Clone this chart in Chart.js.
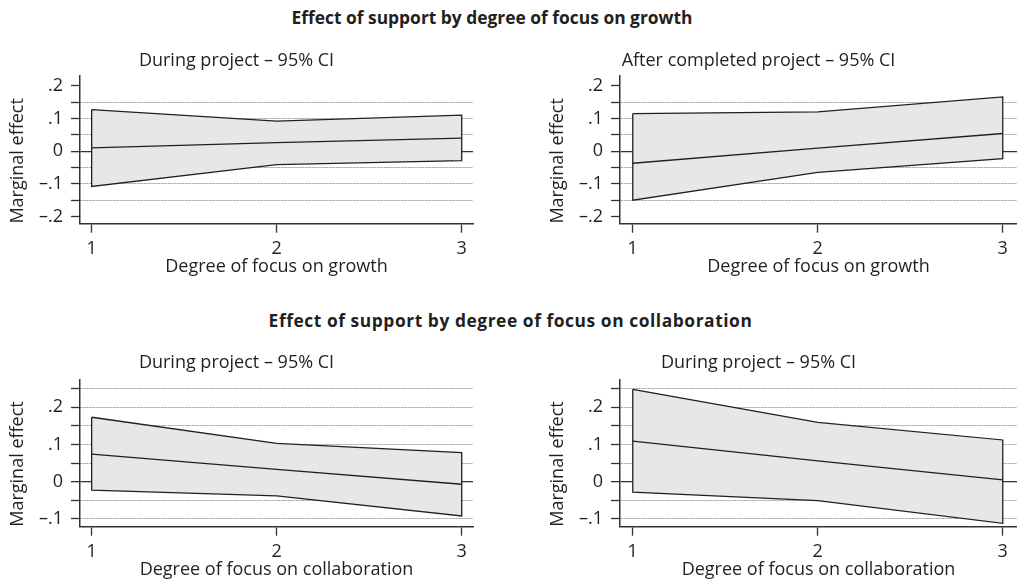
<!DOCTYPE html>
<html>
<head>
<meta charset="utf-8">
<script src="https://cdn.jsdelivr.net/npm/chart.js@4"></script>
<style>
  body { margin: 0; background: #fff; }
  #page { position: relative; width: 1017px; height: 582px; overflow: hidden; font-family: "Open Sans", sans-serif; color: #231f20; }
  .heading { position: absolute; font-weight: bold; font-size: 17.4px; line-height: 20px; white-space: nowrap; text-align: center; }
  canvas { position: absolute; }
</style>
</head>
<body>
<div id="page">
  <div class="heading" style="left:0; width:984px; top:7.4px;">Effect of support by degree of focus on growth</div>
  <div class="heading" style="left:21px; width:979px; top:310px; letter-spacing:0.55px;">Effect of support by degree of focus on collaboration</div>
  <canvas id="growthDuring" style="left:0; top:40px;" width="500" height="250"></canvas>
  <canvas id="growthAfter" style="left:500px; top:40px;" width="517" height="250"></canvas>
  <canvas id="collabDuring" style="left:0; top:340px;" width="500" height="242"></canvas>
  <canvas id="collabDuring2" style="left:500px; top:340px;" width="517" height="242"></canvas>
</div>
<script>
// x positions (degree of focus)
const focusLevels = [1, 2, 3];

// growth, during project
const growthDuringUpper = [0.127, 0.092, 0.110];
const growthDuringMid = [0.010, 0.026, 0.040];
const growthDuringLower = [-0.108, -0.041, -0.029];

// growth, after completed project
const growthAfterUpper = [0.115, 0.120, 0.166];
const growthAfterMid = [-0.037, 0.009, 0.054];
const growthAfterLower = [-0.150, -0.065, -0.023];

// collaboration, during project (left)
const collabDuringUpper = [0.173, 0.103, 0.078];
const collabDuringMid = [0.074, 0.033, -0.007];
const collabDuringLower = [-0.023, -0.038, -0.092];

// collaboration, during project (right)
const collabDuring2Upper = [0.248, 0.159, 0.112];
const collabDuring2Mid = [0.109, 0.056, 0.005];
const collabDuring2Lower = [-0.028, -0.051, -0.112];

// tick values and labels
const xTickValues = [1, 2, 3];
const yTicksGrowth = [-0.2, -0.15, -0.1, -0.05, 0, 0.05, 0.1, 0.15, 0.2];
const yLabelsGrowth = ['\u2013.2', '', '\u2013.1', '', '0', '', '.1', '', '.2'];
const gridGrowth = [-0.15, -0.1, -0.05, 0.05, 0.1, 0.15];
const yTicksCollab = [-0.1, -0.05, 0, 0.05, 0.1, 0.15, 0.2, 0.25];
const yLabelsCollab = ['\u2013.1', '', '0', '', '.1', '', '.2', ''];
const gridCollab = [-0.1, -0.05, 0.05, 0.1, 0.15, 0.2, 0.25];

const ink = '#231f20';
const axisColor = '#333';
const bandColor = '#e6e7e8';
const font = { family: 'Open Sans', size: 18 };

const yTitlePlugin = {
    id: 'yTitle',
    afterDraw(chart, args, opts) {
        const { ctx, chartArea } = chart;
        ctx.save();
        ctx.translate(chartArea.left - 62.5, (chartArea.top + chartArea.bottom) / 2 + 11);
        ctx.rotate(-Math.PI / 2);
        ctx.font = '18px "Open Sans"';
        ctx.fillStyle = ink;
        ctx.textAlign = 'center';
        ctx.textBaseline = 'middle';
        ctx.fillText(opts.text, 0, 0);
        ctx.restore();
    }
};

const pts = (ys) => focusLevels.map((x, i) => ({ x: x, y: ys[i] }));

function makePanel(id, p) {
    const outline = pts(p.upper).concat(pts(p.lower).reverse(), [{ x: focusLevels[0], y: p.upper[0] }]);
    new Chart(id, {
        type: 'line',
        data: {
            datasets: [
                { data: pts(p.mid), borderColor: ink, borderWidth: 1.3, pointRadius: 0, fill: false, order: 0 },
                { data: outline, borderColor: ink, borderWidth: 1.3, pointRadius: 0, fill: false, order: 1 },
                { data: pts(p.upper), borderWidth: 0, pointRadius: 0, fill: '+1', backgroundColor: bandColor, order: 3 },
                { data: pts(p.lower), borderWidth: 0, pointRadius: 0, fill: false, order: 4 }
            ]
        },
        options: {
            responsive: false,
            animation: false,
            layout: { padding: { top: 0, right: p.padRight, bottom: 0, left: 0 } },
            plugins: {
                legend: { display: false },
                tooltip: { enabled: false },
                title: {
                    display: true,
                    text: p.title,
                    color: ink,
                    font: { family: 'Open Sans', size: 18, weight: 'normal', lineHeight: 1.2 },
                    padding: { top: p.titleTop, bottom: p.titleBottom }
                },
                yTitle: { text: 'Marginal effect' }
            },
            scales: {
                x: {
                    type: 'linear',
                    min: p.xMin,
                    max: p.xMax,
                    afterBuildTicks: (s) => { s.ticks = xTickValues.map(v => ({ value: v })); },
                    afterFit: (s) => { s.height = p.xHeight; },
                    ticks: { color: ink, font: font, padding: 5, maxRotation: 0, autoSkip: false, callback: (v) => String(v) },
                    grid: { drawOnChartArea: false, drawTicks: true, tickLength: 9, tickColor: axisColor, tickWidth: 1.3 },
                    border: { display: true, color: axisColor, width: 1.5 },
                    title: { display: true, text: p.xTitle, color: ink, font: font, padding: { top: 0, bottom: p.xTitlePad } }
                },
                y: {
                    min: p.yMin,
                    max: p.yMax,
                    afterBuildTicks: (s) => { s.ticks = p.yTicks.map(v => ({ value: v })); },
                    afterFit: (s) => { s.width = p.yWidth; },
                    ticks: {
                        color: ink, font: font, padding: 8, autoSkip: false,
                        callback: (v, i) => p.yLabels[i]
                    },
                    grid: {
                        drawTicks: true, tickLength: 9, tickColor: axisColor, tickWidth: 1.3,
                        color: (c) => {
                            if (!c.tick) return 'rgba(0,0,0,0)';
                            if (c.tick.value === 0) return axisColor;
                            return p.grid.includes(c.tick.value) ? '#999' : 'rgba(0,0,0,0)';
                        },
                        lineWidth: (c) => (c.tick && c.tick.value === 0 ? 1.3 : 1)
                    },
                    border: {
                        display: true, color: axisColor, width: 1.5,
                        dash: (c) => (c.tick && c.tick.value !== 0 ? [2, 1] : [])
                    }
                }
            }
        },
        plugins: [yTitlePlugin]
    });
}

const topRow = { titleTop: 10, titleBottom: 4.4, xHeight: 66.3, xTitlePad: 12.5 };
const bottomRow = { titleTop: 12, titleBottom: 5.7, xHeight: 55.3, xTitlePad: 1.2 };

makePanel('growthDuring', Object.assign({}, topRow, {
    title: 'During project \u2013 95% CI', xTitle: 'Degree of focus on growth',
    upper: growthDuringUpper, mid: growthDuringMid, lower: growthDuringLower,
    xMin: 0.937, xMax: 3.061, padRight: 27, yWidth: 80,
    yMin: -0.222, yMax: 0.23, yTicks: yTicksGrowth, yLabels: yLabelsGrowth, grid: gridGrowth
}));
makePanel('growthAfter', Object.assign({}, topRow, {
    title: 'After completed project \u2013 95% CI', xTitle: 'Degree of focus on growth',
    upper: growthAfterUpper, mid: growthAfterMid, lower: growthAfterLower,
    xMin: 0.931, xMax: 3.077, padRight: 0, yWidth: 120,
    yMin: -0.222, yMax: 0.23, yTicks: yTicksGrowth, yLabels: yLabelsGrowth, grid: gridGrowth
}));
makePanel('collabDuring', Object.assign({}, bottomRow, {
    title: 'During project \u2013 95% CI', xTitle: 'Degree of focus on collaboration',
    upper: collabDuringUpper, mid: collabDuringMid, lower: collabDuringLower,
    xMin: 0.937, xMax: 3.061, padRight: 27, yWidth: 80,
    yMin: -0.121, yMax: 0.275, yTicks: yTicksCollab, yLabels: yLabelsCollab, grid: gridCollab
}));
makePanel('collabDuring2', Object.assign({}, bottomRow, {
    title: 'During project \u2013 95% CI', xTitle: 'Degree of focus on collaboration',
    upper: collabDuring2Upper, mid: collabDuring2Mid, lower: collabDuring2Lower,
    xMin: 0.931, xMax: 3.077, padRight: 0, yWidth: 120,
    yMin: -0.121, yMax: 0.275, yTicks: yTicksCollab, yLabels: yLabelsCollab, grid: gridCollab
}));
</script>
</body>
</html>
